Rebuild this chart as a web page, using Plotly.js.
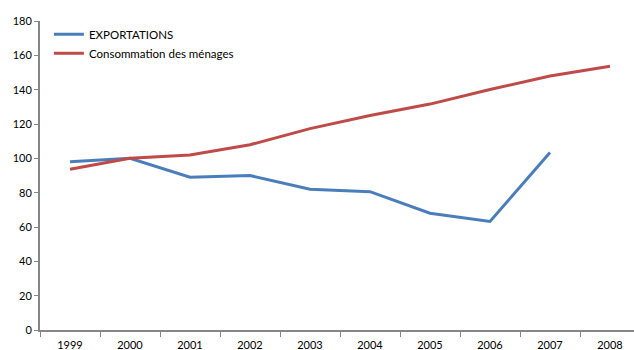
<!DOCTYPE html>
<html>
<head>
<meta charset="utf-8">
<script src="https://cdn.plot.ly/plotly-3.0.1.min.js"></script>
<style>
  html, body { margin: 0; padding: 0; background: #ffffff; }
  #chart { width: 634px; height: 350px; }
</style>
</head>
<body>
<div id="chart"></div>
<script>
// Indices (base 100 en 2000)
const years = ["1999", "2000", "2001", "2002", "2003", "2004", "2005", "2006", "2007", "2008"];
const exportations = [98, 100, 89, 90, 82, 80.6, 68, 63.2, 103.4, null];
const consommation = [93.7, 100, 101.9, 107.9, 117.3, 125, 131.6, 140.1, 148, 153.7];
const yTicks = [0, 20, 40, 60, 80, 100, 120, 140, 160, 180];

const axisGrey = "#868686";
const fontFamily = "Lato, 'Open Sans', sans-serif";

const traces = [
  {
    x: years, y: exportations, name: "EXPORTATIONS",
    type: "scatter", mode: "lines",
    line: { color: "#4A7EBB", width: 3 },
    connectgaps: false
  },
  {
    x: years, y: consommation, name: "Consommation des ménages",
    type: "scatter", mode: "lines",
    line: { color: "#BE4B48", width: 3 }
  }
];

const layout = {
  width: 634, height: 350,
  margin: { l: 40, r: 0, t: 21, b: 20 },
  paper_bgcolor: "#ffffff", plot_bgcolor: "#ffffff",
  font: { family: fontFamily, size: 11, color: "#000000" },
  showlegend: true,
  legend: {
    x: 0.015, y: 1.004, xanchor: "left", yanchor: "top",
    bgcolor: "rgba(0,0,0,0)", borderwidth: 0,
    font: { family: fontFamily, size: 11.5, color: "#000000" },
    tracegroupgap: 0, itemwidth: 30
  },
  xaxis: {
    type: "category",
    range: [-0.5, 9.4],
    tickson: "boundaries",
    ticks: "outside", ticklen: 5, tickcolor: axisGrey, tickwidth: 1,
    ticklabelstandoff: 4,
    showline: true, linecolor: axisGrey, linewidth: 2,
    showgrid: false, zeroline: false,
    tickfont: { family: fontFamily, size: 11, color: "#000000" },
    fixedrange: true
  },
  yaxis: {
    range: [0, 180],
    tickmode: "array", tickvals: yTicks, ticktext: yTicks.map(String),
    ticks: "outside", ticklen: 4, tickcolor: axisGrey, tickwidth: 1,
    showline: true, linecolor: axisGrey, linewidth: 2,
    showgrid: false, zeroline: false,
    tickfont: { family: fontFamily, size: 11, color: "#000000" },
    fixedrange: true
  }
};

Plotly.newPlot("chart", traces, layout, { displayModeBar: false, staticPlot: true });
</script>
</body>
</html>
